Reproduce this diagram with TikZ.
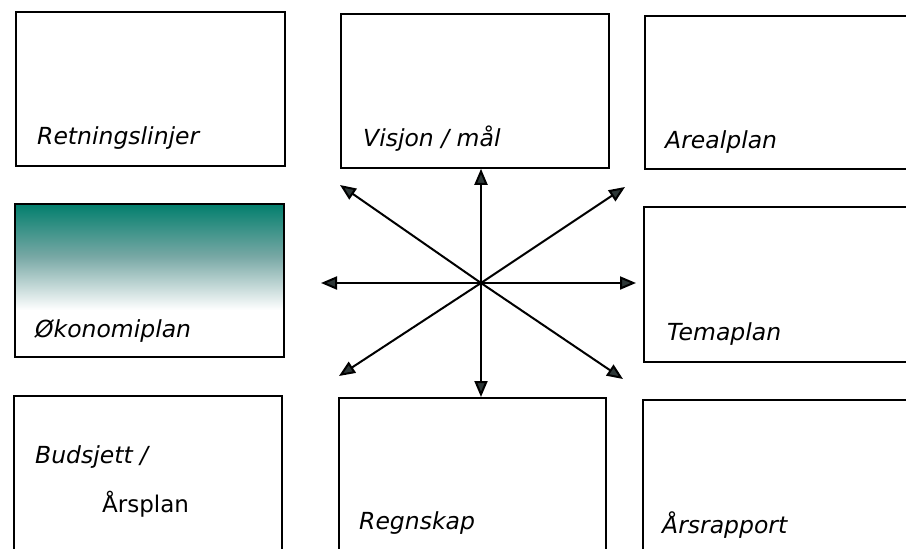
\documentclass[tikz,border=0pt]{standalone}
\usepackage{fontspec}
\setmainfont{DejaVu Sans}
\usetikzlibrary{arrows.meta}
\definecolor{tealtop}{RGB}{0,126,108}
\definecolor{tealmid}{RGB}{120,168,165}
\definecolor{tipgrey}{RGB}{45,55,55}
\tikzset{
  box/.style={draw=black, line width=1.8pt, rectangle, inner sep=0pt, anchor=north west},
  lbl/.style={anchor=base west, inner sep=0pt, font=\fontsize{23.5}{28}\selectfont\itshape},
  lblup/.style={anchor=base west, inner sep=0pt, font=\fontsize{23}{28}\selectfont},
  link/.style={line width=2pt, draw=black, -{Triangle[length=16pt,width=13pt,fill=tipgrey]}}
}
\begin{document}
\begin{tikzpicture}[x=1pt,y=-1pt]
\useasboundingbox (0,0) rectangle (906,549);
\clip (0,0) rectangle (906,549);
\fill[white] (0,0) rectangle (906,549);
% shading of the Okonomiplan box
\shade[top color=tealtop, bottom color=white, middle color=tealmid] (14,203) rectangle (283,310);
% boxes
\node[box, minimum width=269pt, minimum height=154pt] (A) at (15,11) {};
\node[box, minimum width=268pt, minimum height=154pt] (B) at (340,13) {};
\node[box, minimum width=290pt, minimum height=153pt] (C) at (644,15) {};
\node[box, minimum width=269pt, minimum height=153pt] (D) at (14,203) {};
\node[box, minimum width=290pt, minimum height=155pt] (E) at (643,206) {};
\node[box, minimum width=268pt, minimum height=180pt] (F) at (13,395) {};
\node[box, minimum width=267pt, minimum height=180pt] (G) at (338,397) {};
\node[box, minimum width=290pt, minimum height=180pt] (H) at (642,399) {};
% labels
\node[lbl] (tA) at (37,144) {Retningslinjer};
\node[lbl] (tB) at (363,146) {Visjon / mål};
\node[lbl] (tC) at (665,148) {Arealplan};
\node[lbl] (tD) at (35,337) {Økonomiplan};
\node[lbl] (tE) at (667,340) {Temaplan};
\node[lbl] (tF1) at (35,463) {Budsjett /};
\node[lblup] (tF2) at (102,512) {Årsplan};
\node[lbl] (tG) at (359,529) {Regnskap};
\node[lbl] (tH) at (662,533) {Årsrapport};
% arrows
\coordinate (c) at (481,283);
\coordinate (pl) at (321,283);
\coordinate (pr) at (636,283);
\coordinate (pul) at (340,185);
\coordinate (pur) at (625,187);
\coordinate (pdl) at (339,376);
\coordinate (pdr) at (623,379);
\draw[link] (c) -- (B.south -| c);
\draw[link] (c) -- (G.north -| c);
\draw[link] (c) -- (pl);
\draw[link] (c) -- (pr);
\draw[link] (c) -- (pul);
\draw[link] (c) -- (pur);
\draw[link] (c) -- (pdl);
\draw[link] (c) -- (pdr);
\end{tikzpicture}
\end{document}
